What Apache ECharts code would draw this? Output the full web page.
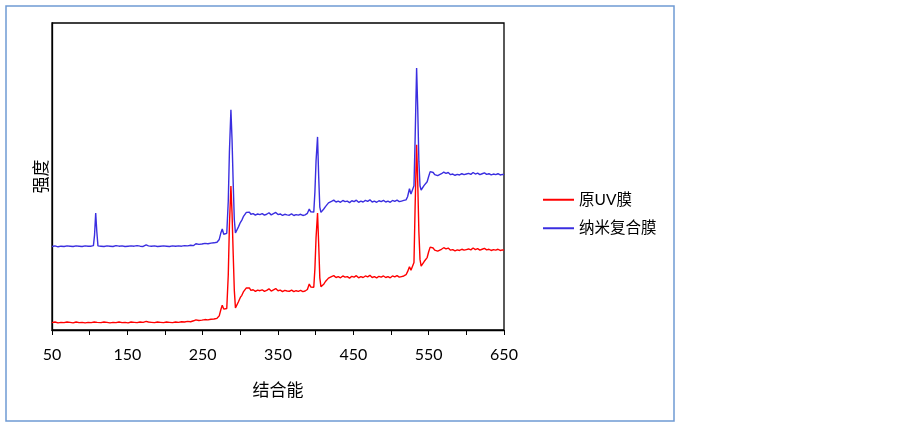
<!DOCTYPE html>
<html>
<head>
<meta charset="utf-8">
<script src="https://cdn.jsdelivr.net/npm/echarts@6/dist/echarts.min.js"></script>
<style>
html,body{margin:0;padding:0;background:#fff;}
#chart{width:900px;height:426px;}
</style>
</head>
<body>
<div id="chart"></div>
<script>
// 结合能 (x) 与强度 (y, 任意单位)
var seriesNames = ['原UV膜', '纳米复合膜'];
var xTicks = [50, 150, 250, 350, 450, 550, 650];

var blueX = [50,54,58,62,66,70,74,78,82,86,90,94,98,102,105,106.5,108,109.5,111,115,119,123,127,131,135,139,143,147,151,155,159,163,167,171,175,178,182,186,190,194,198,202,206,210,214,218,222,226,230,234,238,241,245,249,253,257,261,265,269,272,274,276,278,280,282,284,285.5,287.5,289,290.5,292,293.5,295.5,297.5,300,302,304,306,308,310,312,314,317,320,323,326,329,332,335,338,341,344,347,350,353,356,359,362,365,368,371,374,377,380,383,386,389,391.5,393.5,395.5,397.5,399,400.5,402.5,404,405.5,407,409,411,413,415,417,419,421,424,427,430,433,436,439,442,445,448,451,454,457,460,463,466,469,472,475,478,481,484,487,490,493,496,499,502,505,508,511,514,517,520,522,524.5,526.5,528.5,530.5,532,534,535.5,537,538.5,540,542,544,546,548,550,552,554,556,558,560,562,564,567,570,573,576,579,582,585,588,591,594,597,600,603,606,609,612,615,618,621,624,627,630,633,636,639,642,645,648,650];
var blueY = [27.2,27.4,27.1,27.3,27.2,27.4,27.3,27.2,27.4,27.3,27.2,27.4,27.3,27.3,27.5,31,38.1,32,27.4,27.3,27.2,27.4,27.3,27.2,27.5,27.3,27.4,27.2,27.3,27.4,27.3,27.5,27.3,27.2,27.7,27.4,27.3,27.4,27.2,27.3,27.4,27.3,27.2,27.4,27.3,27.4,27.3,27.5,27.4,27.6,27.5,28.1,27.9,28.0,28.2,28.1,28.3,28.4,28.6,29.5,31.5,32.9,31.2,30.6,31.5,42,58,71.7,62,48,36,31.6,31.9,33.6,35.0,35.8,36.9,37.4,38.3,38.0,38.4,37.7,37.9,37.4,37.8,37.6,37.9,37.4,37.7,38.2,37.5,37.9,38.3,37.6,37.8,37.3,37.7,37.5,37.4,37.8,37.3,37.6,37.4,37.7,37.3,37.5,38.0,39.4,38.5,37.9,38.4,45,55,62.9,50,40,38.3,38.9,39.5,40.2,40.6,41.4,41.2,41.9,42.3,41.7,42.0,41.6,42.2,41.8,42.0,41.5,42.1,41.8,42.3,41.6,42.0,41.7,42.2,41.9,42.4,41.7,42.0,41.6,42.1,41.8,42.2,41.7,42.0,41.6,42.2,41.9,42.3,41.8,42.0,42.2,42.4,43.4,46.0,44.3,44.8,47,62,85.3,72,55,47,45.6,45.9,47.1,47.0,48.3,50.0,51.6,51.0,51.3,50.6,50.8,50.3,50.5,50.9,51.4,51.0,51.3,50.6,50.8,50.4,50.7,50.5,50.9,50.6,50.8,51.0,50.7,51.3,50.8,51.1,50.6,50.9,51.2,50.7,50.9,50.5,50.8,50.6,50.9,50.5,50.7,50.6];

var redX = [50,54,58,62,66,70,74,78,82,86,90,94,98,102,106,110,115,119,123,127,131,135,139,143,147,151,155,159,163,167,171,175,178,182,186,190,194,198,202,206,210,214,218,222,226,230,234,238,241,245,249,253,257,261,265,269,272,274,276,278,280,282,284,285.5,287.5,289,290.5,292,293.5,295.5,297.5,300,302,304,306,308,310,312,314,317,320,323,326,329,332,335,338,341,344,347,350,353,356,359,362,365,368,371,374,377,380,383,386,389,391.5,393.5,395.5,397.5,399,400.5,402.5,404,405.5,407,409,411,413,415,417,419,421,424,427,430,433,436,439,442,445,448,451,454,457,460,463,466,469,472,475,478,481,484,487,490,493,496,499,502,505,508,511,514,517,520,522,524.5,526.5,528.5,530.5,532,534,535.5,537,538.5,540,542,544,546,548,550,552,554,556,558,560,562,564,567,570,573,576,579,582,585,588,591,594,597,600,603,606,609,612,615,618,621,624,627,630,633,636,639,642,645,648,650];
var redY = [2.4,2.6,2.3,2.5,2.4,2.6,2.5,2.3,2.6,2.4,2.5,2.3,2.5,2.4,2.6,2.5,2.4,2.6,2.5,2.3,2.5,2.4,2.6,2.4,2.5,2.3,2.6,2.5,2.4,2.6,2.5,2.8,2.6,2.5,2.4,2.6,2.5,2.4,2.6,2.5,2.4,2.6,2.5,2.7,2.6,2.8,2.7,3.0,3.3,3.1,3.2,3.4,3.3,3.5,3.6,3.8,4.6,6.5,8.1,6.8,6.3,7.0,18,34,46.9,38,25,13,7.2,7.6,9.2,10.6,11.3,12.4,13.0,13.7,13.4,13.7,12.9,13.1,12.6,13.0,12.8,13.1,12.6,12.9,13.4,12.7,13.1,13.5,12.8,13.0,12.5,12.9,12.7,12.6,13.0,12.5,12.8,12.6,12.9,12.5,12.7,13.2,15.0,14.0,13.4,13.9,20,30,38.1,28,17,14.1,14.5,15.0,15.8,16.2,16.9,16.7,17.4,17.7,17.1,17.4,17.0,17.6,17.2,17.4,16.9,17.5,17.2,17.7,17.0,17.4,17.1,17.6,17.3,17.8,17.1,17.4,17.0,17.5,17.2,17.6,17.1,17.4,17.0,17.6,17.3,17.7,17.2,17.4,17.6,18.0,19.0,20.6,19.5,20.0,22,40,60.3,48,32,23,20.8,21.2,22.3,22.2,23.6,25.5,27.0,26.4,26.7,26.0,26.2,25.7,25.9,26.3,26.8,26.4,26.7,26.0,26.2,25.8,26.1,25.9,26.3,26.0,26.2,26.4,26.1,26.7,26.2,26.5,26.0,26.3,26.6,26.1,26.3,25.9,26.2,26.0,26.3,25.9,26.1,26.0];

function pairs(xs, ys){
    var out = [];
    for(var i=0;i<xs.length;i++){
        out.push([xs[i], ys[i]]);
    }
    return out;
}

var FONT = 'Lato, "Noto Sans CJK SC", sans-serif';
var myChart = echarts.init(document.getElementById('chart'));

var option = {
    backgroundColor: '#fff',
    animation: false,
    graphic: [{
        type: 'rect',
        shape: {x: 6, y: 6, width: 668, height: 415},
        style: {fill: 'none', stroke: '#6f9ad3', lineWidth: 1.5},
        silent: true
    }],
    grid: {
        left: 52, top: 23, right: 396, bottom: 96,
        show: true,
        borderColor: '#000',
        borderWidth: 1.3
    },
    legend: {
        orient: 'vertical',
        left: 543,
        top: 192,
        padding: 0,
        icon: 'rect',
        itemWidth: 31,
        itemHeight: 2,
        itemGap: 13,
        textStyle: {fontFamily: FONT, fontSize: 15.5, color: '#000'},
        data: seriesNames
    },
    xAxis: {
        type: 'value',
        min: 50,
        max: 650,
        interval: 50,
        name: '结合能',
        nameLocation: 'middle',
        nameGap: 52,
        nameTextStyle: {fontFamily: FONT, fontSize: 17, color: '#000'},
        axisLine: {show: true, lineStyle: {color: '#000', width: 1.3}},
        axisTick: {show: true, inside: false, length: 5, lineStyle: {color: '#000'}},
        axisLabel: {
            margin: 17,
            fontFamily: FONT,
            fontSize: 16,
            color: '#000',
            formatter: function(v){
                return xTicks.indexOf(v) >= 0 ? String(v) : '';
            }
        },
        splitLine: {show: false}
    },
    yAxis: {
        type: 'value',
        min: 0,
        max: 100,
        name: '强度',
        nameLocation: 'middle',
        nameGap: 2,
        nameTextStyle: {fontFamily: FONT, fontSize: 17, color: '#000'},
        axisLine: {show: true, lineStyle: {color: '#000', width: 1.3}},
        axisTick: {show: false},
        axisLabel: {show: false},
        splitLine: {show: false}
    },
    series: [
        {
            name: seriesNames[0],
            type: 'line',
            symbol: 'none',
            color: '#ff0000',
            lineStyle: {width: 1.4, color: '#ff0000'},
            data: pairs(redX, redY)
        },
        {
            name: seriesNames[1],
            type: 'line',
            symbol: 'none',
            color: '#3a2ee0',
            lineStyle: {width: 1.4, color: '#3a2ee0'},
            data: pairs(blueX, blueY)
        }
    ]
};
myChart.setOption(option);
</script>
</body>
</html>
